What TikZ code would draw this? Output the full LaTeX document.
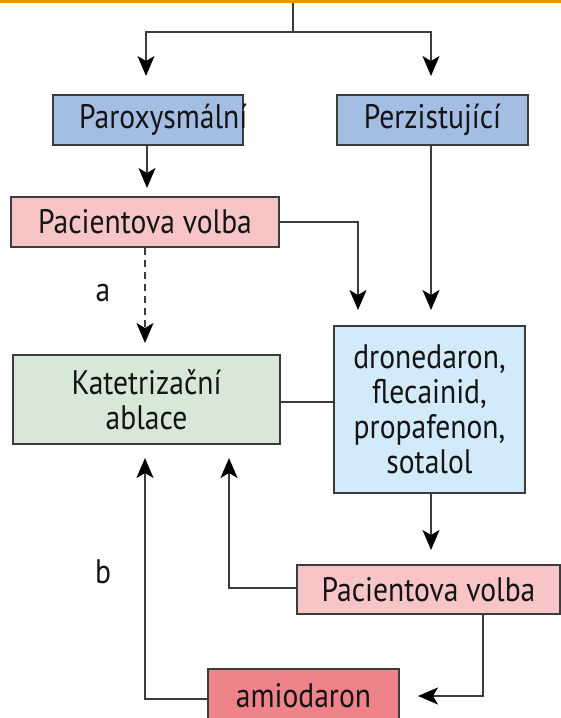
\documentclass[tikz,border=0pt]{standalone}
\usepackage{fontspec}
\setmainfont{PT Sans}[FakeStretch=0.87]
\usetikzlibrary{arrows.meta}
\definecolor{lineC}{HTML}{3C3C3C}
\definecolor{orangeC}{HTML}{F39200}
\definecolor{blueC}{HTML}{A4BDE3}
\definecolor{pinkC}{HTML}{F7C5C6}
\definecolor{greenC}{HTML}{D8E8D6}
\definecolor{lblueC}{HTML}{D3EAFA}
\definecolor{redC}{HTML}{EF838A}
\tikzset{
  txt/.style={font=\fontsize{34}{35}\selectfont, text=black!92},
  box/.style={txt, draw=lineC, line width=1.3pt, inner sep=0pt, align=center},
  conn/.style={draw=lineC, line width=1.3pt},
  arr/.style={conn, -{Stealth[length=20pt,width=17pt,inset=5pt,fill=black,color=black]}},
  lbl/.style={txt, inner sep=0pt}
}
\begin{document}
\begin{tikzpicture}[x=1pt,y=-1pt]
\useasboundingbox (0,0) rectangle (561,718);
\fill[white] (0,0) rectangle (561,718);
\fill[orangeC] (0,0) rectangle (561,3);
% boxes
\node[box, fill=blueC, minimum width=190pt, minimum height=50pt] (parox) at (148,120) {};
\node[txt, inner sep=0pt, anchor=west] (paroxt) at (79,120) {Paroxysmální};
\node[box, fill=blueC, minimum width=191pt, minimum height=50pt] (perz) at (432.5,120) {Perzistující};
\node[box, fill=pinkC, minimum width=268pt, minimum height=50pt] (pac1) at (145,222) {Pacientova volba};
\node[box, fill=greenC, minimum width=267pt, minimum height=89pt] (kat) at (146.5,399.5) {Katetrizační\\ablace};
\node[box, fill=lblueC, minimum width=191pt, minimum height=167pt] (dron) at (429.5,409.5) {dronedaron,\\flecainid,\\propafenon,\\sotalol};
\node[box, fill=pinkC, minimum width=263pt, minimum height=49pt] (pac2) at (428.5,589.5) {Pacientova volba};
\node[box, fill=redC, minimum width=191pt, minimum height=54pt] (amio) at (303.5,696) {amiodaron};
% labels
\node[lbl] (la) at (103,293) {a};
\node[lbl] (lb) at (103,572) {b};
% coordinates
\coordinate (top) at (293,3);
\coordinate (split) at (293,32);
\coordinate (t1) at (146,76);
\coordinate (t2) at (431,76);
% connectors
\draw[conn] (top) -- (split);
\draw[arr] (split) -| (t1);
\draw[arr] (split) -| (t2);
\draw[arr] (parox.south -| 147,0) -- (147,188);
\draw[arr] (pac1.east) -| (358,310);
\draw[arr] (perz.south -| 431,0) -- (431,310);
\draw[arr, dashed, dash pattern=on 7pt off 5pt] (pac1.south -| 145,0) -- (145,343);
\draw[conn] (kat.east |- 0,402) -- (dron.west |- 0,402);
\draw[arr] (dron.south -| 431,0) -- (431,550);
\draw[arr] (pac2.west |- 0,588) -| (229,458);
\draw[arr] (pac2.south -| 483,0) |- (418,696);
\draw[arr] (amio.west |- 0,699) -| (145,458);
\end{tikzpicture}
\end{document}
